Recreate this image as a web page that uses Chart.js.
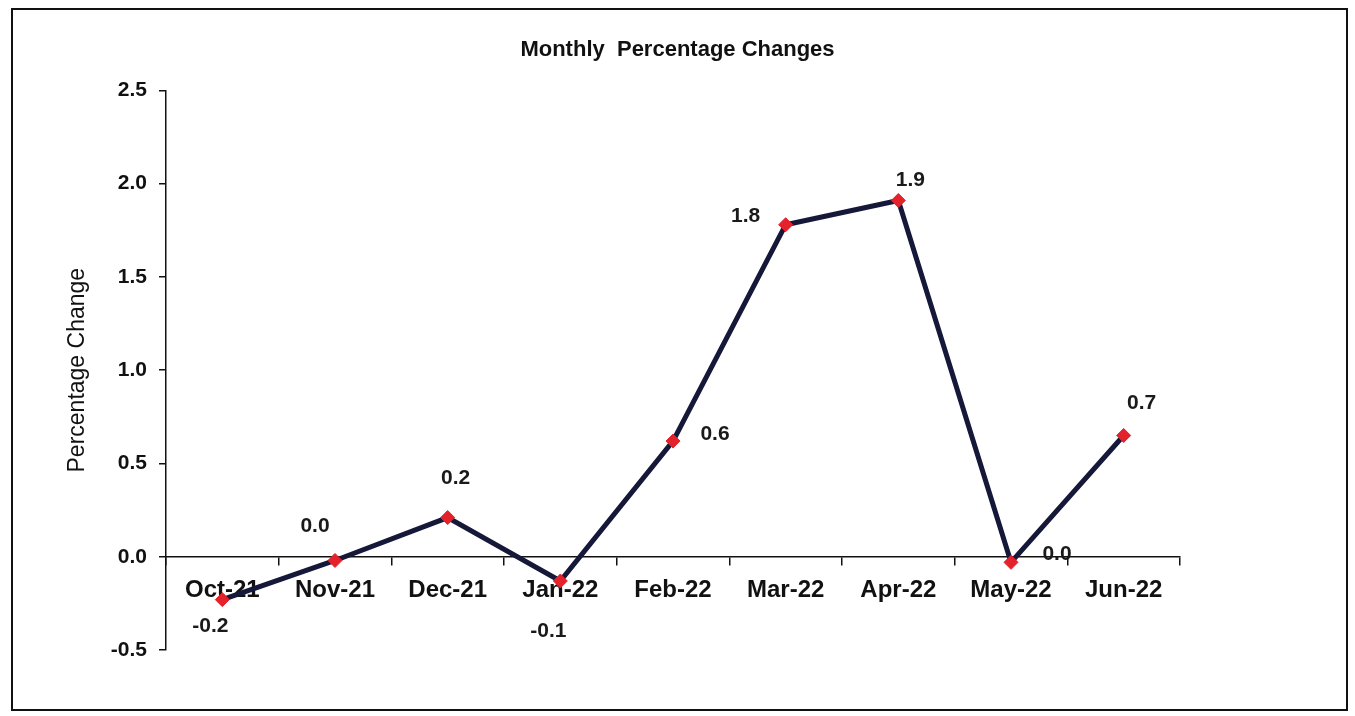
<!DOCTYPE html>
<html>
<head>
<meta charset="utf-8">
<script src="https://cdn.jsdelivr.net/npm/chart.js@4.4.1/dist/chart.umd.min.js"></script>
<style>
  html, body { margin: 0; padding: 0; background: #fff; }
  #wrap { position: relative; width: 1355px; height: 716px; }
</style>
</head>
<body>
<div id="wrap"><canvas id="pct-chart"></canvas></div>
<script>
// Data
const months = ['Oct-21', 'Nov-21', 'Dec-21', 'Jan-22', 'Feb-22', 'Mar-22', 'Apr-22', 'May-22', 'Jun-22'];
const pctChange = [-0.23, -0.02, 0.21, -0.13, 0.62, 1.78, 1.91, -0.03, 0.65];
const pointLabels = ['-0.2', '0.0', '0.2', '-0.1', '0.6', '1.8', '1.9', '0.0', '0.7'];
const yTicks = [-0.5, 0.0, 0.5, 1.0, 1.5, 2.0, 2.5];

// where each value label sits relative to its marker (px)
const labelOffsets = [[-12, 27], [-20, -34], [8, -39], [-12, 50], [42, -7], [-40, -9], [12, -20], [46, -8], [18, -32]];

const FONT = "'Liberation Sans', Arial, sans-serif";

// white page + the border box round the chart
const frame = {
  id: 'frame',
  beforeDraw(chart) {
    const ctx = chart.ctx;
    ctx.save();
    ctx.fillStyle = '#fff';
    ctx.fillRect(0, 0, chart.width, chart.height);
    ctx.strokeStyle = '#111';
    ctx.lineWidth = 2;
    ctx.strokeRect(12, 9, 1335, 701);
    ctx.restore();
  }
};

// value labels next to the markers
const valueLabels = {
  id: 'valueLabels',
  afterDatasetsDraw(chart) {
    const ctx = chart.ctx;
    const meta = chart.getDatasetMeta(0);
    ctx.save();
    ctx.font = 'bold 21px ' + FONT;
    ctx.fillStyle = '#1a1a1a';
    ctx.textAlign = 'center';
    ctx.textBaseline = 'middle';
    meta.data.forEach((pt, i) => {
      const off = labelOffsets[i];
      ctx.fillText(pointLabels[i], pt.x + off[0], pt.y + off[1]);
    });
    ctx.restore();
  }
};

const ctxEl = document.getElementById('pct-chart');

new Chart(ctxEl, {
  type: 'line',
  data: {
    labels: months,
    datasets: [{
      label: 'Percentage Change',
      data: pctChange,
      borderColor: '#151838',
      borderWidth: 5,
      tension: 0,
      pointStyle: 'rectRot',
      pointRadius: 7,
      pointBackgroundColor: '#e3222b',
      pointBorderColor: '#e3222b',
      pointBorderWidth: 1
    }]
  },
  options: {
    responsive: true,
    maintainAspectRatio: false,
    animation: false,
    layout: { padding: { top: 0, left: 0, right: 0, bottom: 66 } },
    plugins: {
      legend: { display: false },
      tooltip: { enabled: false },
      title: {
        display: true,
        text: 'Monthly  Percentage Changes',
        color: '#111',
        font: { family: FONT, size: 22, weight: 'bold' },
        padding: { top: 37, bottom: 27 }
      }
    },
    scales: {
      x: {
        position: { y: 0 },
        offset: true,
        grid: {
          offset: true,
          drawOnChartArea: false,
          drawTicks: true,
          tickLength: 8,
          color: '#111',
          lineWidth: 1.5
        },
        border: { display: true, color: '#111', width: 1.5 },
        ticks: {
          color: '#111',
          padding: 11,
          maxRotation: 0,
          minRotation: 0,
          font: { family: FONT, size: 24, weight: 'bold' }
        }
      },
      y: {
        position: 'left',
        min: -0.5,
        max: 2.5,
        afterFit: (scale) => { scale.width = 166; },
        afterBuildTicks: (scale) => { scale.ticks = yTicks.map(v => ({ value: v })); },
        grid: {
          drawOnChartArea: false,
          drawTicks: true,
          tickLength: 7,
          color: '#111',
          lineWidth: 1.5
        },
        border: { display: true, color: '#111', width: 1.5 },
        ticks: {
          color: '#111',
          padding: 12,
          font: { family: FONT, size: 21, weight: 'bold' },
          callback: (v) => Number(v).toFixed(1)
        },
        title: {
          display: true,
          text: 'Percentage Change',
          color: '#111',
          padding: { top: 64, bottom: 4 },
          font: { family: FONT, size: 23 }
        }
      },
      // empty right-hand axis, only used to keep the right margin
      yRight: {
        position: 'right',
        display: true,
        afterFit: (scale) => { scale.width = 175; },
        grid: { display: false },
        border: { display: false },
        ticks: { display: false }
      }
    }
  },
  plugins: [frame, valueLabels]
});
</script>
</body>
</html>
